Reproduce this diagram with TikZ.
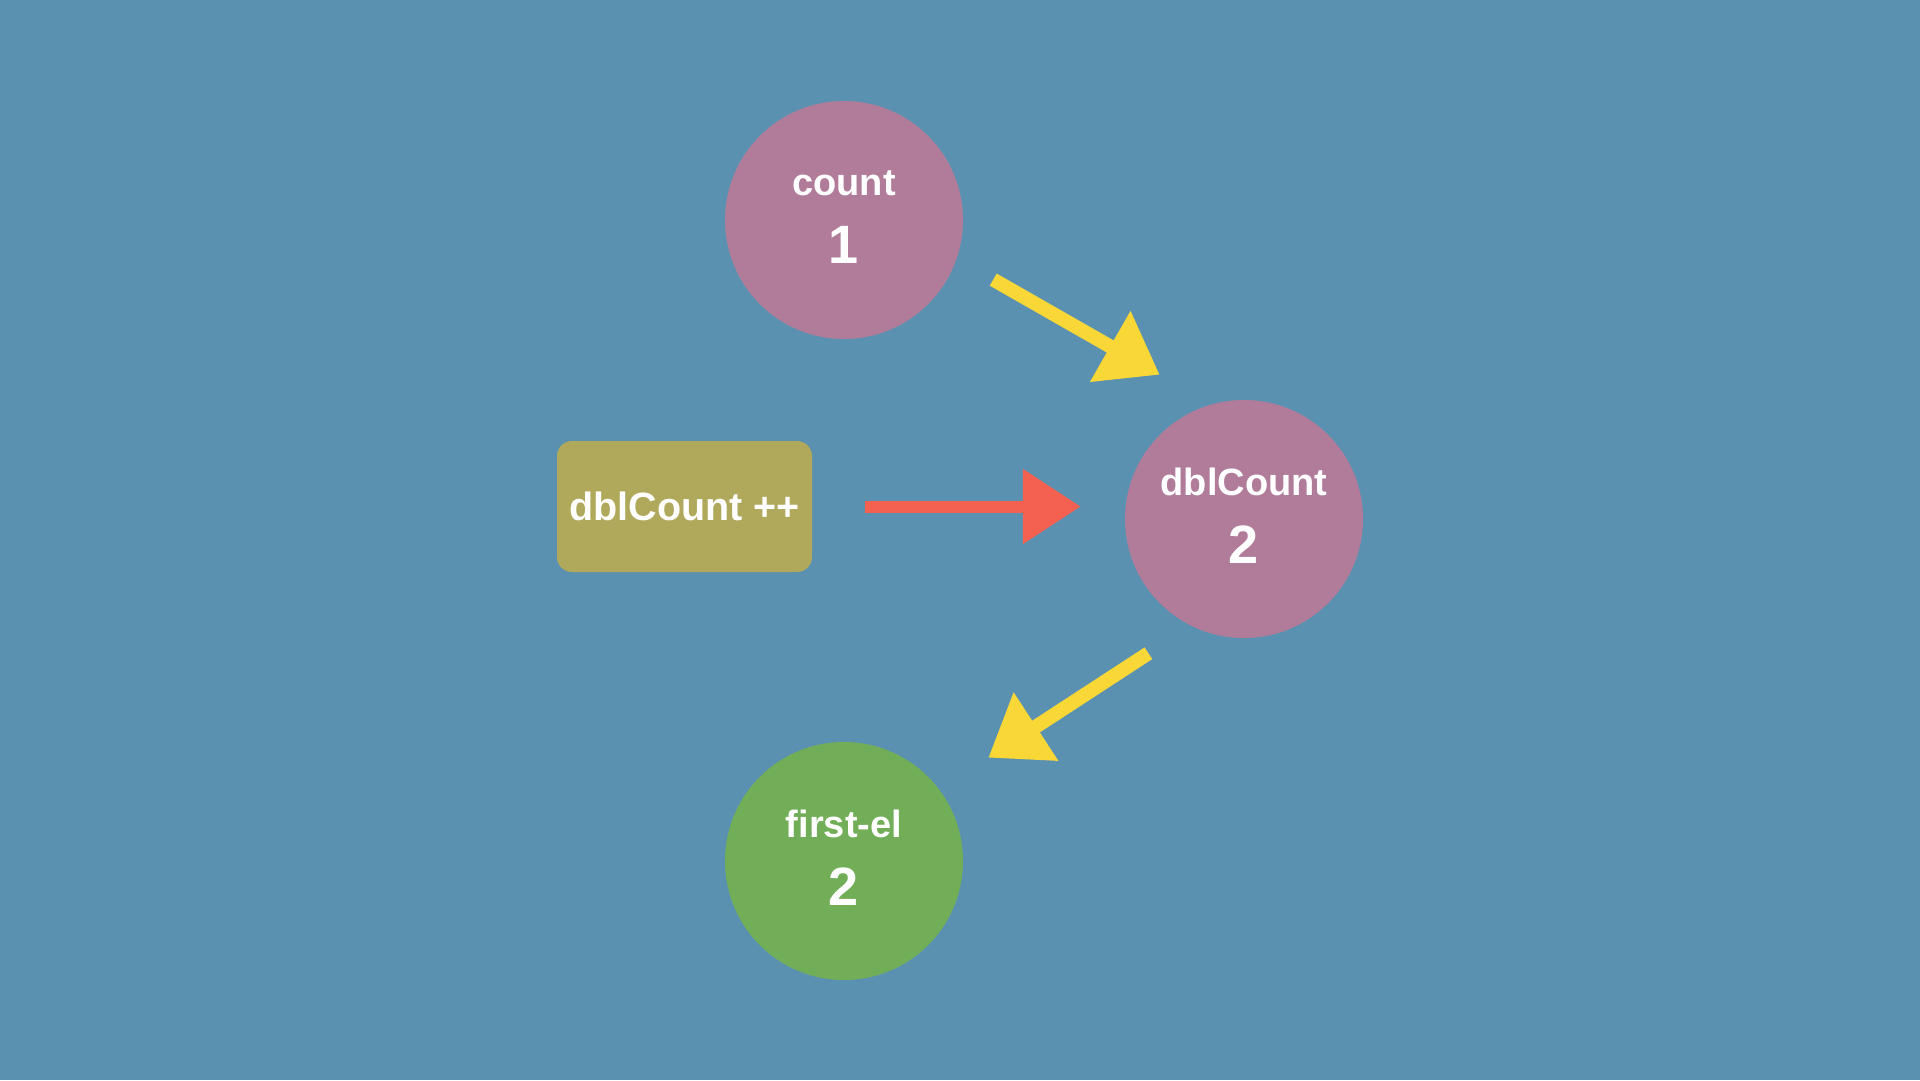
\documentclass[tikz,border=0pt]{standalone}
\usepackage{fontspec}
\setmainfont{Liberation Sans}
\usetikzlibrary{arrows.meta}
\definecolor{bgblue}{HTML}{5B91B0}
\definecolor{varpink}{HTML}{B07C99}
\definecolor{vargreen}{HTML}{72AE58}
\definecolor{boxolive}{HTML}{B0A85A}
\definecolor{chalkyellow}{HTML}{F8D737}
\definecolor{chalkred}{HTML}{F46150}
\begin{document}
\begin{tikzpicture}[x=1pt, y=-1pt,
varnode/.style={circle, fill=varpink, minimum size=238pt, inner sep=0pt},
elnode/.style={circle, fill=vargreen, minimum size=238pt, inner sep=0pt},
opnode/.style={rectangle, rounded corners=15pt, fill=boxolive, minimum width=255pt, minimum height=131pt, text=white, font=\fontsize{39.5}{44}\selectfont\bfseries},
namelbl/.style={anchor=base, text=white, inner sep=0pt, font=\fontsize{38}{42}\selectfont\bfseries},
vallbl/.style={anchor=base, text=white, inner sep=0pt, font=\fontsize{54}{58}\selectfont\bfseries},
yellowarrow/.style={draw=chalkyellow, line width=14pt, -{Triangle[length=57pt, width=78pt, fill=chalkyellow]}},
redarrow/.style={draw=chalkred, line width=12pt, -{Triangle[length=58pt, width=72pt, fill=chalkred]}},
]
\fill[bgblue] (0,0) rectangle (1920,1080);
\useasboundingbox (0,0) rectangle (1920,1080);

%Nodes
\node[varnode]   (count)   at (844,220) {};
\node[varnode]   (dbl)     at (1244,519) {};
\node[elnode]    (first)   at (844,861) {};
\node[opnode]    (incr)    at (684.5,506.5) {dblCount ++};

%Labels
\node[namelbl] at ([yshift=25pt]count.center) {count};
\node[vallbl]  at ([yshift=-43pt]count.center) {1};
\node[namelbl] at ([yshift=24pt]dbl.center) {dblCount};
\node[vallbl]  at ([yshift=-44pt]dbl.center) {2};
\node[namelbl] at ([yshift=24pt]first.center) {first-el};
\node[vallbl]  at ([yshift=-44pt]first.center) {2};

%Lines
\draw[yellowarrow] ([xshift=46pt]count.-30) -- ([yshift=60pt]dbl.135);
\draw[redarrow, shorten <=53pt, shorten >=44pt] (incr.east) -- (incr.east -| dbl.west);
\draw[yellowarrow] ([xshift=-36pt, yshift=-31pt]dbl.-120) -- ([xshift=60pt, yshift=19pt]first.45);
\end{tikzpicture}
\end{document}
